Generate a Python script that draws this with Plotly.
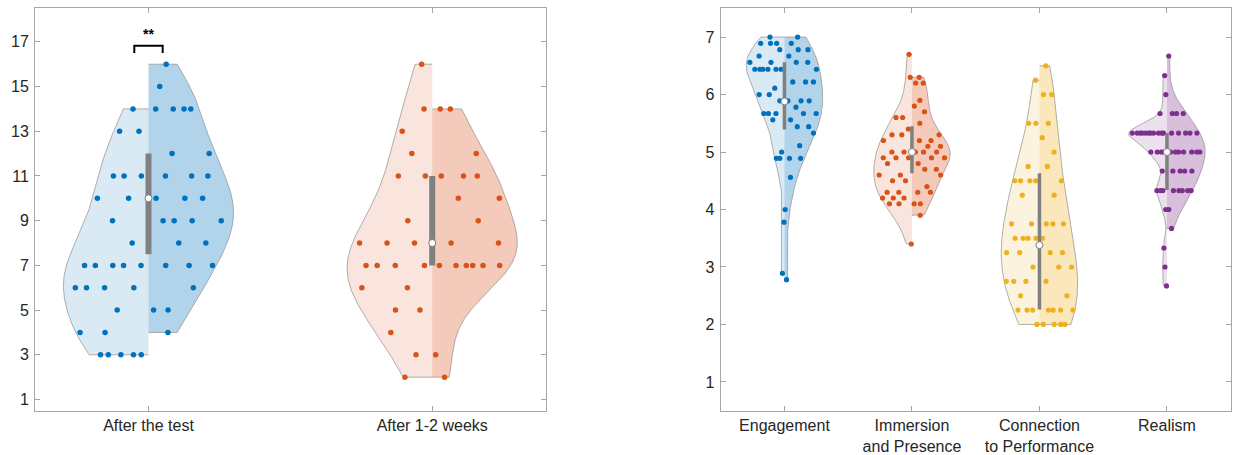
import numpy as np
import plotly.graph_objects as go

# ---------------- data ----------------
left_categories = ["After the test", "After 1-2 weeks"]
left_positions = [1, 2]

after_test_a = [14, 13, 13, 11, 11, 11, 10, 10, 9, 8, 7, 7, 7, 7, 7, 6, 6, 6, 6, 5, 4, 4, 3, 3, 3, 3, 3]
after_test_b = [16, 15, 14, 14, 14, 14, 12, 12, 11, 11, 11, 10, 10, 10, 9, 9, 9, 9, 8, 8, 7, 7, 7, 6, 5, 5, 4]
weeks_a = [16, 14, 13, 12, 11, 11, 9, 8, 8, 8, 7, 7, 7, 7, 6, 6, 5, 5, 4, 3, 2]
weeks_b = [14, 14, 12, 11, 11, 11, 10, 10, 9, 8, 8, 7, 7, 7, 7, 7, 7, 3, 2]

left_q1 = [7.5, 7.0]
left_median = [10.0, 8.0]
left_q3 = [12.0, 11.0]

right_categories = ["Engagement", "Immersion<br>and Presence", "Connection<br>to Performance", "Realism"]
right_positions = [1, 2, 3, 4]

engagement_a = [7.0, 6.89, 6.89, 6.89, 6.78, 6.67, 6.56, 6.56, 6.44, 6.44, 6.44, 6.44, 6.44, 6.44,
                6.11, 6.0, 6.0, 5.89, 5.67, 5.67, 5.67, 5.56, 5.0, 4.89, 4.89, 3.78, 2.89]
engagement_b = [7.0, 6.89, 6.78, 6.78, 6.67, 6.56, 6.56, 6.44, 6.22, 6.22, 6.22, 5.89, 5.89, 5.89,
                5.78, 5.67, 5.67, 5.56, 5.44, 5.44, 5.33, 5.11, 4.89, 4.89, 4.56, 4.0, 2.78]
immersion_a = [6.7, 6.3, 5.6, 5.6, 5.4, 5.3, 5.3, 5.2, 5.0, 5.0, 4.9, 4.9, 4.9, 4.8, 4.6, 4.6,
               4.5, 4.5, 4.3, 4.3, 4.2, 4.2, 4.2, 4.1, 4.1, 3.4]
immersion_b = [6.3, 6.2, 6.2, 5.9, 5.8, 5.7, 5.5, 5.3, 5.2, 5.2, 5.1, 5.1, 5.0, 5.0, 5.0, 4.9,
               4.9, 4.8, 4.7, 4.7, 4.6, 4.4, 4.3, 4.3, 4.1, 4.1, 3.9]
connection_a = [6.25, 5.5, 5.5, 4.75, 4.5, 4.5, 4.5, 4.5, 4.25, 3.75, 3.75, 3.5, 3.5, 3.5, 3.5,
                3.25, 3.25, 3.0, 2.75, 2.75, 2.75, 2.5, 2.25, 2.25, 2.25, 2.0]
connection_b = [6.5, 6.0, 6.0, 5.5, 5.25, 5.0, 4.75, 4.5, 4.25, 3.75, 3.75, 3.75, 3.5, 3.25, 3.25,
                3.0, 3.0, 2.75, 2.5, 2.25, 2.25, 2.25, 2.25, 2.0, 2.0, 2.0, 2.0]
realism_a = [6.33, 6.0, 5.67] + [5.33] * 11 + [5.0] * 4 + [4.67] + [4.33] * 3 + [4.0, 3.33, 3.0, 2.67]
realism_b = [6.67] + [5.67] * 3 + [5.33] * 5 + [5.0] * 7 + [4.67] * 4 + [4.33] * 5 + [4.0, 3.67]

right_q1 = [5.39, 4.63, 2.26, 4.34]
right_median = [5.88, 5.0, 3.38, 5.0]
right_q3 = [6.56, 5.45, 4.63, 5.33]

left_yticks = [1, 3, 5, 7, 9, 11, 13, 15, 17]
right_yticks = [1, 2, 3, 4, 5, 6, 7]
significance_label = "**"

# ---------------- styling ----------------
BLUE = (0, 114, 189)
ORANGE = (217, 83, 25)
YELLOW = (237, 177, 32)
PURPLE = (126, 47, 142)
HALF_WIDTH = 0.3
EDGE = "rgba(140,140,140,0.85)"
BOXC = "#808080"
AXC = "#a6a6a6"
FONT = dict(family="Liberation Sans, Arial, sans-serif", size=16, color="#262626")
GOLDEN = 0.6180339887


def rgba(c, a):
    return "rgba(%d,%d,%d,%.3f)" % (c[0], c[1], c[2], a)


def bandwidth(v):
    v = np.asarray(v, float)
    q1, q3 = np.percentile(v, [25, 75])
    s = min(np.std(v, ddof=1), (q3 - q1) / 1.349)
    if s <= 0:
        s = np.std(v, ddof=1)
    return 1.059 * s * len(v) ** (-0.2)


def kde(v, grid, bw):
    v = np.asarray(v, float)
    z = (grid[:, None] - v[None, :]) / bw
    return np.exp(-0.5 * z ** 2).sum(axis=1)


fig = go.Figure()


def add_half(pos, vals, side, color, alpha, xa, ya, msize, bw_scale=1.0):
    v = np.asarray(vals, float)
    bw = bandwidth(v) * bw_scale
    grid = np.linspace(v.min(), v.max(), 300)
    dens = kde(v, grid, bw)
    scale = HALF_WIDTH / dens.max()
    w = dens * scale
    xs = np.concatenate([[pos], pos + side * w, [pos]])
    ys = np.concatenate([[grid[0]], grid, [grid[-1]]])
    fig.add_trace(go.Scatter(x=xs, y=ys, mode="lines", fill="toself",
                             fillcolor=rgba(color, alpha), line=dict(color=EDGE, width=0.8),
                             xaxis=xa, yaxis=ya, showlegend=False, hoverinfo="skip"))
    wp = kde(v, v, bw) * scale
    frac = np.mod((np.arange(len(v)) + 1) * GOLDEN, 1.0)
    px = pos + side * wp * (0.06 + 0.9 * frac)
    fig.add_trace(go.Scatter(x=px, y=v, mode="markers",
                             marker=dict(color=rgba(color, 1), size=msize, line=dict(width=0)),
                             xaxis=xa, yaxis=ya, showlegend=False))


def add_split(pos, a, b, color, xa, ya, msize, bw_a=1.0, bw_b=1.0):
    add_half(pos, a, -1, color, 0.15, xa, ya, msize, bw_a)
    add_half(pos, b, 1, color, 0.30, xa, ya, msize, bw_b)


def add_box(positions, q1, med, q3, xa, ya, bw, ms):
    for p, lo, m, hi in zip(positions, q1, med, q3):
        fig.add_trace(go.Scatter(x=[p, p], y=[lo, hi], mode="lines",
                                 line=dict(color=BOXC, width=bw),
                                 xaxis=xa, yaxis=ya, showlegend=False, hoverinfo="skip"))
    fig.add_trace(go.Scatter(x=positions, y=med, mode="markers",
                             marker=dict(color="white", size=ms, line=dict(color=BOXC, width=1)),
                             xaxis=xa, yaxis=ya, showlegend=False))


add_split(left_positions[0], after_test_a, after_test_b, BLUE, "x", "y", 5.5)
add_split(left_positions[1], weeks_a, weeks_b, ORANGE, "x", "y", 5.5)
add_box(left_positions, left_q1, left_median, left_q3, "x", "y", 6, 7)

right_sets = [(engagement_a, engagement_b, BLUE, 1.0, 1.0),
              (immersion_a, immersion_b, ORANGE, 1.0, 1.0),
              (connection_a, connection_b, YELLOW, 1.0, 1.0),
              (realism_a, realism_b, PURPLE, 0.45, 1.0)]
for p, (a, b, c, sa, sb) in zip(right_positions, right_sets):
    add_split(p, a, b, c, "x2", "y2", 5.2, sa, sb)
add_box(right_positions, right_q1, right_median, right_q3, "x2", "y2", 3.5, 7)

# significance bracket above "After the test"
bx0, bx1 = left_positions[0] - 0.05, left_positions[0] + 0.05
by_top = max(after_test_b) + 0.82
by_leg = max(after_test_b) + 0.5
fig.add_trace(go.Scatter(x=[bx0, bx0, bx1, bx1], y=[by_leg, by_top, by_top, by_leg], mode="lines",
                         line=dict(color="black", width=2), xaxis="x", yaxis="y",
                         showlegend=False, hoverinfo="skip"))
fig.add_annotation(x=left_positions[0], y=by_top + 0.55, xref="x", yref="y",
                   text="<b>%s</b>" % significance_label, showarrow=False,
                   font=dict(family="Liberation Sans, Arial, sans-serif", size=14, color="black"))

axis_common = dict(showline=True, linecolor=AXC, linewidth=1, mirror="ticks", ticks="inside",
                   ticklen=5, tickcolor=AXC, showgrid=False, zeroline=False, tickfont=FONT)

W, H = 1235, 455
fig.update_layout(
    width=W, height=H, margin=dict(l=0, r=0, t=0, b=0),
    paper_bgcolor="white", plot_bgcolor="white",
    font=FONT, showlegend=False, hovermode="closest",
    xaxis=dict(domain=[35 / W, 545.7 / W], range=[0.6, 2.4], tickvals=left_positions,
               ticktext=left_categories, anchor="y", **axis_common),
    yaxis=dict(domain=[1 - 410.7 / H, 1 - 8.3 / H], range=[0.5, 18.5], tickvals=left_yticks,
               anchor="x", ticklabelstandoff=2, **axis_common),
    xaxis2=dict(domain=[720.7 / W, 1230.7 / W], range=[0.5, 4.5], tickvals=right_positions,
                ticktext=right_categories, anchor="y2", **axis_common),
    yaxis2=dict(domain=[1 - 410.7 / H, 1 - 8.3 / H], range=[0.5, 7.5], tickvals=right_yticks,
                anchor="x2", ticklabelstandoff=2, **axis_common),
)

fig.write_html("out.html")
